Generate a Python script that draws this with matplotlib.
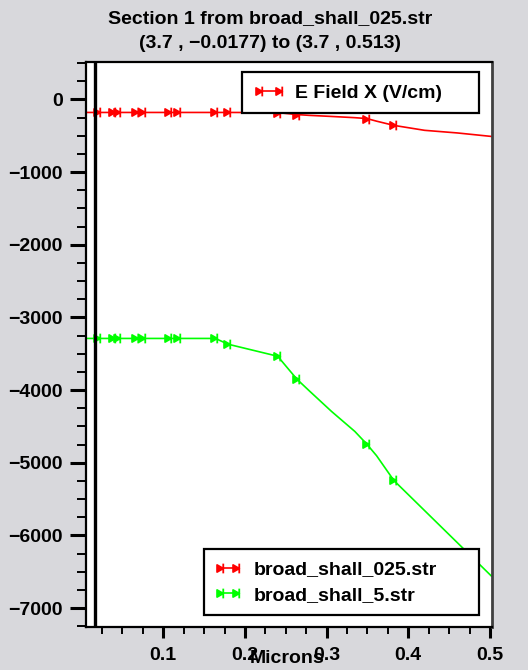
import matplotlib
matplotlib.use("Agg")
import matplotlib.pyplot as plt
from matplotlib.lines import Line2D
from matplotlib.path import Path
from matplotlib.ticker import FixedLocator, MultipleLocator

plt.rcParams["font.family"] = ["Liberation Sans", "DejaVu Sans"]
plt.rcParams["font.weight"] = "bold"
plt.rcParams["font.size"] = 14

# data
red_x = [0.0053, 0.0196, 0.0382, 0.0443, 0.0671, 0.0752, 0.1075, 0.1186, 0.1639,
         0.1792, 0.2401, 0.2636, 0.2787, 0.306, 0.3346, 0.3493, 0.3612, 0.3824,
         0.42, 0.46, 0.5018]
red_y = [-180, -180, -180, -180, -180, -180, -180, -180, -180,
         -180, -182, -209, -220, -235, -252, -264, -300, -358,
         -426, -462, -510]
red_marks = [1, 2, 3, 4, 5, 6, 7, 8, 9, 10, 11, 15, 17]

green_x = [0.0053, 0.0196, 0.0382, 0.0443, 0.0671, 0.0752, 0.1075, 0.1186, 0.1639,
           0.1792, 0.2401, 0.2636, 0.2787, 0.306, 0.3346, 0.3493, 0.3612, 0.3824,
           0.5018]
green_y = [-3290, -3290, -3290, -3290, -3290, -3290, -3290, -3290, -3290,
           -3369, -3535, -3850, -4010, -4294, -4570, -4745, -4904, -5245,
           -6560]
green_marks = [1, 2, 3, 4, 5, 6, 7, 8, 9, 10, 11, 15, 17]

boundary_x = 0.0168
x_ticks = [0.1, 0.2, 0.3, 0.4, 0.5]
title_lines = ["Section 1 from broad_shall_025.str", "(3.7 , \u22120.0177) to (3.7 , 0.513)"]
series_names = ["broad_shall_025.str", "broad_shall_5.str"]
quantity = "E Field X (V/cm)"

# arrow-with-bar marker like the original plotter
arrow = Path([(-1, -0.8), (0.4, 0), (-1, 0.8), (-1, -0.8), (0.4, -1.1), (0.4, 1.1)],
             [Path.MOVETO, Path.LINETO, Path.LINETO, Path.CLOSEPOLY, Path.MOVETO, Path.LINETO])

fig = plt.figure(figsize=(5.28, 6.7), dpi=100)
fig.patch.set_facecolor("#d8d8dc")
ax = fig.add_axes([0.1627, 0.0643, 0.931 - 0.1627, 0.907 - 0.0643])
ax.set_facecolor("white")

ax.plot(red_x, red_y, color="#ff0000", lw=1.2, marker=arrow, ms=7,
        markevery=red_marks, mew=1.3)
ax.plot(green_x, green_y, color="#00ff00", lw=1.2, marker=arrow, ms=7,
        markevery=green_marks, mew=1.3)
ax.axvline(boundary_x, color="black", lw=2.4, zorder=3)

ax.set_xlim(0.0053, 0.502)
ax.set_ylim(-7260, 510)

ax.xaxis.set_major_locator(FixedLocator(x_ticks))
ax.set_xticklabels([f"{t:.1f}" for t in x_ticks])
ax.xaxis.set_minor_locator(MultipleLocator(0.025))
ax.yaxis.set_major_locator(MultipleLocator(1000))
ax.yaxis.set_minor_locator(MultipleLocator(250))

ax.tick_params(axis="x", which="major", length=7.7, width=2.2, pad=7, direction="out")
ax.tick_params(axis="x", which="minor", length=5, width=1.4, direction="out")
ax.tick_params(axis="y", which="major", length=11.5, width=2.2, pad=5, direction="out")
ax.tick_params(axis="y", which="minor", length=6.5, width=1.4, direction="out")
for lab in ax.get_xticklabels() + ax.get_yticklabels():
    lab.set_fontweight("bold")

for side in ["top", "bottom", "left"]:
    ax.spines[side].set_linewidth(1.6)
    ax.spines[side].set_color("black")
ax.spines["right"].set_linewidth(2.0)
ax.spines["right"].set_color("#404040")

# the original plotter puts the axis title right on top of the tick labels
ax.set_xlabel("Microns", fontweight="bold")
ax.xaxis.set_label_coords((287 - 85.9) / (491.6 - 85.9), -(658 - 626.9) / (626.9 - 62.3))
ax.xaxis.label.set_va("center")

fig.text(270 / 528, 1 - 18.5 / 670, title_lines[0], ha="center", va="center", fontweight="bold")
fig.text(270 / 528, 1 - 44 / 670, title_lines[1], ha="center", va="center", fontweight="bold")

h0 = Line2D([], [], color="#ff0000", lw=1.2, marker=arrow, ms=7, mew=1.3)
leg1 = ax.legend([h0], [quantity], bbox_to_anchor=(0.459, 0.830, 0.448, 0.062),
                 bbox_transform=fig.transFigure, loc="upper left", mode="expand",
                 borderaxespad=0, fancybox=False, framealpha=1, edgecolor="black",
                 borderpad=0.6, handlelength=1.65, handletextpad=0.46, numpoints=2,
                 prop={"weight": "bold", "size": 14})
leg1.get_frame().set_linewidth(1.6)
leg1.set_zorder(5)
ax.add_artist(leg1)

h1 = Line2D([], [], color="#ff0000", lw=1.2, marker=arrow, ms=7, mew=1.3)
h2 = Line2D([], [], color="#00ff00", lw=1.2, marker=arrow, ms=7, mew=1.3)
leg2 = ax.legend([h1, h2], series_names, bbox_to_anchor=(0.386, 0.0825, 0.521, 0.0975),
                 bbox_transform=fig.transFigure, loc="upper left", mode="expand",
                 borderaxespad=0, fancybox=False, framealpha=1, edgecolor="black",
                 borderpad=0.59, labelspacing=0.39, handlelength=1.4, handletextpad=0.6,
                 numpoints=2, prop={"weight": "bold", "size": 14})
leg2.get_frame().set_linewidth(1.6)
leg2.set_zorder(5)

fig.savefig("out.png", dpi=100, facecolor=fig.get_facecolor())
